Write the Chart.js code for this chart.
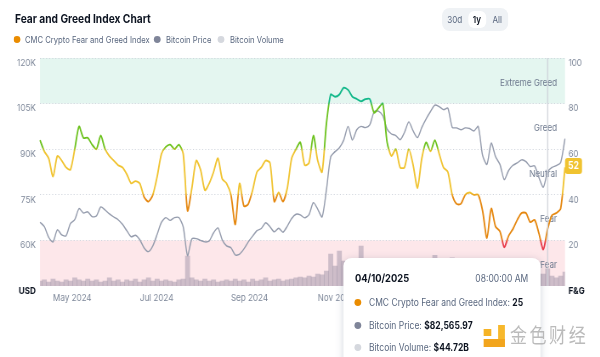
<!DOCTYPE html>
<html>
<head>
<meta charset="utf-8">
<script src="https://cdn.jsdelivr.net/npm/chart.js@4.4.1/dist/chart.umd.min.js"></script>
<style>
html,body{margin:0;padding:0;width:600px;height:357px;overflow:hidden;background:#fff;font-family:Inter,"Noto Sans",sans-serif;}
#wrap{position:absolute;left:0;top:0;width:706px;height:357px;transform:scaleX(0.85);transform-origin:0 0;}
.abs{position:absolute;white-space:nowrap;}
.dot{position:absolute;width:8.2px;height:7px;border-radius:50%;}
</style>
</head>
<body>
<div id="wrap">
  <canvas id="c" width="706" height="357" style="position:absolute;left:0;top:0"></canvas>

  <div class="abs" style="left:17.6px;top:11px;font-size:12px;font-weight:700;color:#0d1421;line-height:16px">Fear and Greed Index Chart</div>

  <div class="dot" style="left:16px;top:36px;background:#ea8c00"></div>
  <div class="abs" style="left:29.4px;top:33px;font-size:9px;line-height:13px;color:#58667e">CMC Crypto Fear and Greed Index</div>
  <div class="dot" style="left:180.6px;top:36px;background:#7f8599"></div>
  <div class="abs" style="left:195.3px;top:33px;font-size:9px;line-height:13px;color:#58667e">Bitcoin Price</div>
  <div class="dot" style="left:256px;top:36px;background:#d5d8de"></div>
  <div class="abs" style="left:270.6px;top:33px;font-size:9px;line-height:13px;color:#58667e">Bitcoin Volume</div>

  <div class="abs" style="left:520px;top:8px;width:77.6px;height:23px;background:#eff2f5;border-radius:9px/8px"></div>
  <div class="abs" style="left:550.6px;top:11px;width:21.2px;height:17px;background:#fff;border-radius:7px/6px"></div>
  <div class="abs" style="left:525px;top:12px;width:20px;text-align:center;font-size:9.5px;line-height:15px;color:#58667e">30d</div>
  <div class="abs" style="left:551px;top:12px;width:20px;text-align:center;font-size:9.5px;line-height:15px;color:#0d1421;font-weight:600">1y</div>
  <div class="abs" style="left:575px;top:12px;width:20px;text-align:center;font-size:9.5px;line-height:15px;color:#58667e">All</div>

  <div id="tip" class="abs" style="left:403.5px;top:258px;width:232px;height:120px;background:#fff;border-radius:10px/8px;box-shadow:0 1px 8px rgba(88,102,126,0.25);">
    <div id="tipDate" class="abs" style="left:14px;top:13px;font-size:11px;font-weight:700;color:#0d1421;line-height:14px"></div>
    <div id="tipTime" class="abs" style="right:14px;top:13px;font-size:10px;color:#58667e;line-height:14px"></div>
    <div class="dot" style="left:13.5px;top:40.5px;background:#ea8c00"></div>
    <div id="tipRow1" class="abs" style="left:30.6px;top:37px;font-size:10px;color:#58667e;line-height:14px"></div>
    <div class="dot" style="left:13.5px;top:63.5px;background:#7f8599"></div>
    <div id="tipRow2" class="abs" style="left:30.6px;top:60px;font-size:10px;color:#58667e;line-height:14px"></div>
    <div class="dot" style="left:13.5px;top:85.5px;background:#d5d8de"></div>
    <div id="tipRow3" class="abs" style="left:30.6px;top:82px;font-size:10px;color:#58667e;line-height:14px"></div>
  </div>

  <div class="abs" style="left:569px;top:329px;width:8.5px;height:7px;background:#f5b325"></div>
  <div class="abs" style="left:586px;top:325px;width:7.5px;height:22px;background:#f7b82c"></div>
  <div class="abs" style="left:569px;top:339px;width:24.5px;height:8px;background:#f2a51d"></div>
  <div class="abs" style="left:600px;top:324px;font-family:'Noto Sans CJK SC',sans-serif;font-size:20px;line-height:22px;letter-spacing:3px;color:rgba(175,175,175,0.85)">金色财经</div>
</div>

<script>
// ---------- data ----------
const startDate = '2024-04-24';
const stepDays = 3;

const fearGreed = [
  64,59,56,48,57,55,52,51,60,70,
  65,65,62,60,66,60,57,55,53,52,
  49,45,46,45,39,37,40,48,58,61,
  62,60,62,58,33,43,55,51,42,45,
  50,56,47,45,40,27,45,35,36,42,
  50,52,55,54,37,41,37,43,56,60,
  63,53,54,66,55,50,71,84,83,84,
  87,86,83,82,81,82,82,76,78,80,
  63,57,60,52,52,60,53,43,56,63,
  59,64,58,52,50,40,36,36,40,41,
  40,40,33,21,34,26,24,17,22,25,
  29,32,32,28,29,23,16,25,31,32,
  34,52
];

// Bitcoin price, thousands of USD
const btcPrice = [
  66,64.5,61,59.5,63.5,61.8,61.5,65.5,66.8,70.5,
  69,69.4,67.8,68,71,70,68.7,67.7,66.8,65.3,
  63.2,61.2,61.7,60.2,57.5,56.3,58.2,62,66,67.5,
  66.6,67.5,67.5,64.5,55,60.5,60.6,60,59.5,59.8,
  62.5,64.1,60.2,58.2,57.6,55.2,55.5,57.2,59.5,61.4,
  63.2,63.9,65.8,64.5,62.8,64,62.7,64.7,67.2,68.6,
  68.4,67.4,68.5,72.4,70.3,67.7,76.5,87.5,89.2,90.5,
  93,97.5,93,96.4,97.5,97.1,98,102.3,102.5,101,
  96.6,95,94.5,93.1,95.5,99,96,93.8,97.2,100,
  102.4,104.5,104,103,103.5,97.2,97,96.4,97,96.8,
  96,97.5,88,85,92,87.5,85,80,83,84.7,
  85.5,86.5,85.9,84.3,84.5,80.6,77.5,82.56597,84,84.6,
  85.6,93.5
];

// Bitcoin volume, billions of USD
const btcVolume = [
  13,16,10,18,13,10,16,13,21,16,
  13,18,13,16,10,13,21,13,16,10,
  16,13,18,10,16,21,13,18,13,16,
  13,10,16,18,78,21,16,13,18,13,
  16,10,13,16,13,18,13,16,10,18,
  13,16,21,13,16,18,13,16,18,21,
  23,21,26,23,31,29,39,83,52,91,
  65,57,47,39,104,47,68,39,36,42,
  68,36,31,31,29,34,26,31,26,29,
  31,80,36,31,29,73,36,31,29,26,
  31,29,42,39,36,34,31,44,34,31,
  26,29,26,23,26,31,31,44.72,26,21,
  26,36
];

const monthTickLabels = ['May 2024','Jul 2024','Sep 2024','Nov 2024','Jan 2025','Mar 2025'];
const monthNames = ['Jan','Feb','Mar','Apr','May','Jun','Jul','Aug','Sep','Oct','Nov','Dec'];
const priceTicks = {min:45, max:120, step:15, baseLabel:'USD'};
const fgTicks = {min:0, max:100, step:20, baseLabel:'F&G'};
const bandEdges = [0,20,40,60,80,100];
const bandNames = ['Extreme Fear','Fear','Neutral','Greed','Extreme Greed'];
const hoverIndex = 117;
const hoverTime = '08:00:00 AM';

// ---------- categories (dates) ----------
const dates = [];
{
  const s = new Date(startDate + 'T00:00:00Z');
  for (let i = 0; i < fearGreed.length; i++) {
    dates.push(new Date(s.getTime() + i * stepDays * 86400000));
  }
}
const categories = dates.map(d => d.toISOString().slice(0,10));
function monthLabel(i){
  const d = dates[i];
  return monthNames[d.getUTCMonth()] + ' ' + d.getUTCFullYear();
}

// ---------- styling ----------
const C = {
  red:'#e8394a', orange:'#e5870f', yellow:'#f0c330', green:'#6cc21e', teal:'#12b88a',
  price:'#959cad', vol:'rgba(140,132,155,0.42)', tick:'#7c8698', dark:'#0d1421',
  grid:'#cfd4dc', mint:'#e4f6f0', pink:'#fde7ea', bandText:'#6b778c', cross:'#cdd1d8'
};
Chart.defaults.font.family = 'Inter, "Noto Sans", sans-serif';

function fgColor(context){
  const chart = context.chart;
  const a = chart.chartArea;
  if (!a) return C.yellow;
  const s = chart.scales.y1;
  const y0 = s.getPixelForValue(0), y100 = s.getPixelForValue(100);
  const g = chart.ctx.createLinearGradient(0, y0, 0, y100);
  const stops = [[0,C.red],[0.19,C.red],[0.21,C.orange],[0.39,C.orange],[0.41,C.yellow],
                 [0.59,C.yellow],[0.61,C.green],[0.79,C.green],[0.81,C.teal],[1,C.teal]];
  stops.forEach(([o,c]) => g.addColorStop(o,c));
  return g;
}

const decor = {
  id:'decor',
  beforeDraw(chart){
    const {ctx, chartArea:a, scales} = chart;
    const s = scales.y1;
    ctx.save();
    const fills = [C.pink, null, null, null, C.mint];
    for (let i = 0; i < bandNames.length; i++) {
      if (!fills[i]) continue;
      const yt = s.getPixelForValue(bandEdges[i+1]);
      const yb = s.getPixelForValue(bandEdges[i]);
      ctx.fillStyle = fills[i];
      ctx.fillRect(a.left, yt, a.right - a.left, yb - yt);
    }
    ctx.restore();
  },
  beforeDatasetsDraw(chart){
    const {ctx, chartArea:a, scales} = chart;
    const s = scales.y1;
    ctx.save();
    ctx.font = '9.5px Inter, "Noto Sans", sans-serif';
    ctx.fillStyle = C.bandText;
    ctx.textAlign = 'right';
    ctx.textBaseline = 'middle';
    for (let i = 0; i < bandNames.length; i++) {
      const y = s.getPixelForValue((bandEdges[i] + bandEdges[i+1]) / 2) + 2;
      ctx.fillText(bandNames[i], a.right - 9.4, y);
    }
    ctx.restore();
  },
  afterDatasetsDraw(chart){
    const {ctx, chartArea:a, scales} = chart;
    const x = scales.x.getPixelForValue(hoverIndex);
    ctx.save();
    ctx.strokeStyle = C.cross;
    ctx.lineWidth = 1.2;
    ctx.beginPath();
    ctx.moveTo(x, a.top);
    ctx.lineTo(x, a.bottom);
    ctx.stroke();
    ctx.restore();
  },
  afterDraw(chart){
    const {ctx, chartArea:a, scales} = chart;
    const v = fearGreed[fearGreed.length - 1];
    const y = scales.y1.getPixelForValue(v) - 1.5;
    const x0 = a.right, w = 20, h = 16;
    ctx.save();
    ctx.fillStyle = C.yellow;
    ctx.beginPath();
    ctx.roundRect(x0, y - h/2, w, h, 3);
    ctx.fill();
    ctx.fillStyle = '#fff';
    ctx.font = 'bold 10px Inter, "Noto Sans", sans-serif';
    ctx.textAlign = 'center';
    ctx.textBaseline = 'middle';
    ctx.fillText(String(v), x0 + w/2, y + 0.5);
    ctx.restore();
  }
};

const isBase = (c, base) => c.tick && c.tick.value === base;

new Chart(document.getElementById('c'), {
  type:'line',
  data:{
    labels: categories,
    datasets:[
      {type:'line', label:'CMC Crypto Fear and Greed Index', data:fearGreed, yAxisID:'y1',
       borderColor:fgColor, borderWidth:1.8, pointRadius:0, tension:0.25, order:0},
      {type:'line', label:'Bitcoin Price', data:btcPrice, yAxisID:'y',
       borderColor:C.price, borderWidth:1.4, pointRadius:0, tension:0.25, order:1},
      {type:'bar', label:'Bitcoin Volume', data:btcVolume, yAxisID:'yv',
       backgroundColor:C.vol, barPercentage:1, categoryPercentage:1, order:2}
    ]
  },
  options:{
    responsive:false,
    animation:false,
    devicePixelRatio:1,
    layout:{padding:{top:58, left:0, right:0, bottom:0}},
    plugins:{legend:{display:false}, tooltip:{enabled:false}},
    scales:{
      x:{
        type:'category', offset:false,
        grid:{display:false, drawTicks:false}, border:{display:false},
        ticks:{
          autoSkip:false, maxRotation:0, minRotation:0, align:'start', padding:6,
          color:C.tick, font:{size:9.5},
          callback:(v,i) => {
            if (i === 0) return '';
            const cur = monthLabel(i), prev = monthLabel(i-1);
            return (cur !== prev && monthTickLabels.includes(cur)) ? cur : '';
          }
        },
        afterFit(s){ s.height = 71; }
      },
      y:{
        position:'left', min:priceTicks.min, max:priceTicks.max,
        grid:{drawTicks:false, lineWidth:1, color:c => isBase(c, priceTicks.min) ? 'rgba(0,0,0,0)' : C.grid, borderDash:[1.2,2.4]},
        border:{display:false, dash:[1.2,2.4]},
        ticks:{
          stepSize:priceTicks.step, padding:5, labelOffset:5,
          color:c => isBase(c, priceTicks.min) ? C.dark : C.tick,
          font:c => isBase(c, priceTicks.min) ? {size:9.5, weight:'bold'} : {size:9.5},
          callback:v => v === priceTicks.min ? priceTicks.baseLabel : v + 'K'
        },
        afterFit(s){ s.width = 47.06; }
      },
      y1:{
        position:'right', min:fgTicks.min, max:fgTicks.max,
        grid:{display:false, drawTicks:false}, border:{display:false},
        ticks:{
          stepSize:fgTicks.step, padding:4, labelOffset:5,
          color:c => isBase(c, fgTicks.min) ? C.dark : C.tick,
          font:c => isBase(c, fgTicks.min) ? {size:9.5, weight:'bold'} : {size:9.5},
          callback:v => v === fgTicks.min ? fgTicks.baseLabel : v
        },
        afterFit(s){ s.width = 706 - 664.7; }
      },
      yv:{display:false, min:0, max:593}
    }
  },
  plugins:[decor]
});

// ---------- tooltip text ----------
const hd = dates[hoverIndex];
const pad = n => String(n).padStart(2,'0');
document.getElementById('tipDate').textContent = pad(hd.getUTCMonth()+1) + '/' + pad(hd.getUTCDate()) + '/' + hd.getUTCFullYear();
document.getElementById('tipTime').textContent = hoverTime;
function row(id, label, value){
  const el = document.getElementById(id);
  el.textContent = label + ': ';
  const b = document.createElement('b');
  b.style.color = C.dark;
  b.textContent = value;
  el.appendChild(b);
}
row('tipRow1', 'CMC Crypto Fear and Greed Index', String(fearGreed[hoverIndex]));
row('tipRow2', 'Bitcoin Price', '$' + (btcPrice[hoverIndex]*1000).toLocaleString('en-US',{minimumFractionDigits:2, maximumFractionDigits:2}));
row('tipRow3', 'Bitcoin Volume', '$' + btcVolume[hoverIndex].toFixed(2) + 'B');
</script>
</body>
</html>
